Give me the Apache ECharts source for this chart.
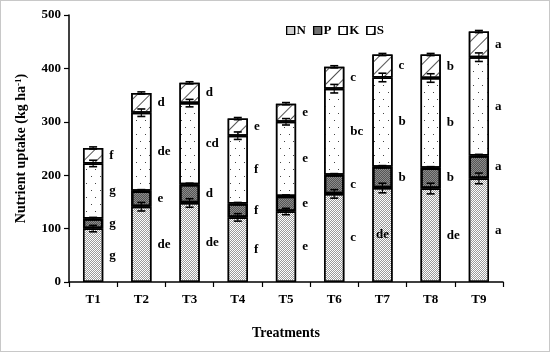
<!DOCTYPE html>
<html><head><meta charset="utf-8">
<script src="https://cdn.jsdelivr.net/npm/echarts@6/dist/echarts.min.js"></script>
<style>html,body{margin:0;padding:0;background:#fff}#c{width:550px;height:352px;box-sizing:border-box;border:1px solid #c8c8c8}</style>
</head><body><div id="c"></div>
<script>
const categories = ['T1','T2','T3','T4','T5','T6','T7','T8','T9'];
const seriesNames = ['N','P','K','S'];
const N = [100,141,148,121,132,165,176,175,194];
const P = [19,30,35,26,29,36,40,39,43];
const K = [103,146,152,127,139,161,167,168,184];
const S = [29,37,38,32,34,41,43,44,48];
const errN = [6,8,8,7,6,8,9,10,10];
const errP = [2,2,2,2,2,2,2,2,2];
const errK = [6,7,7,7,6,8,8,8,8];
const errS = [2,2,2,2,2,2,2,2,2];
const letN = ['g','de','de','f','e','c','de','de','a'];
const letP = ['g','e','d','f','e','c','b','b','a'];
const letK = ['g','de','cd','f','e','bc','b','b','a'];
const letS = ['f','d','d','e','e','c','c','b','a'];
const yTicks = [0,100,200,300,400,500];

const FONT = '"Liberation Serif","Times New Roman",serif';
const values = [N,P,K,S];
const errs = [errN,errP,errK,errS];
const lets = [letN,letP,letK,letS];
const styles = [
  {color:'#fff', decal:{symbol:'rect',symbolSize:1,dashArrayX:[[1,1],[0,1,1,0]],dashArrayY:[1,0],color:'#9a9a9a'}},
  {color:'#8c8c8c', decal:{symbol:'rect',symbolSize:1,dashArrayX:[[1,1],[0,1,1,0]],dashArrayY:[1,0],color:'#555'}},
  {color:'#fff', decal:{symbol:'rect',symbolSize:1,dashArrayX:[[1,8],[0,4,1,4]],dashArrayY:[1,6],color:'#444'}},
  {color:'#fff', decal:{symbol:'rect',symbolSize:1,dashArrayX:[[1,0]],dashArrayY:[1,8],rotation:-Math.PI/4,color:'#555'}}
];
const borderW = [1.5,2.2,1.5,1.5];

const series = [];
const cum = categories.map(()=>0);
values.forEach((arr,si)=>{
  series.push({
    name: seriesNames[si], type:'bar', stack:'t', barWidth:'42%',
    itemStyle: Object.assign({borderColor:'#000', borderWidth:borderW[si]}, styles[si]),
    label:{show:true, position:'right', distance:6, fontFamily:FONT, fontWeight:'bold', fontSize:13, color:'#000',
      formatter: p => lets[si][p.dataIndex]},
    data: arr.map((v,i)=> (si===0 && i===6) ? {value:v, label:{position:'inside'}} : v)
  });
});
const errData = [];
values.forEach((arr,si)=>{
  arr.forEach((v,i)=>{ cum[i]+=v; errData.push([i, cum[i], errs[si][i]]); });
});
series.push({
  type:'custom', silent:true, z:10,
  renderItem:(params, api)=>{
    const x = api.value(0), y = api.value(1), e = api.value(2);
    const top = api.coord([x, y+e]), bot = api.coord([x, y-e]);
    const hw = 4;
    const st = {stroke:'#000', lineWidth:1.1};
    return {type:'group', children:[
      {type:'line', shape:{x1:top[0],y1:top[1],x2:bot[0],y2:bot[1]}, style:st},
      {type:'line', shape:{x1:top[0]-hw,y1:top[1],x2:top[0]+hw,y2:top[1]}, style:{stroke:'#000', lineWidth:1.6}},
      {type:'line', shape:{x1:bot[0]-hw,y1:bot[1],x2:bot[0]+hw,y2:bot[1]}, style:{stroke:'#000', lineWidth:1.6}}
    ]};
  },
  encode:{x:0,y:1},
  data: errData
});

const chart = echarts.init(document.getElementById('c'));
chart.setOption({
  animation:false,
  textStyle:{fontFamily:FONT},
  grid:{left:68, right:46, top:14, bottom:69},
  legend:{
    data: seriesNames, left:280, top:18, itemWidth:8, itemHeight:8, itemGap:7, icon:'rect',
    textStyle:{fontFamily:FONT, fontWeight:'bold', fontSize:13, color:'#000', padding:[0,0,0,-3]},
    itemStyle:{borderColor:'#000', borderWidth:1.2}
  },
  xAxis:{
    type:'category', data:categories,
    name:'Treatments', nameLocation:'middle', nameGap:44,
    nameTextStyle:{fontFamily:FONT, fontWeight:'bold', fontSize:14, color:'#000'},
    axisLine:{lineStyle:{color:'#000', width:1.5}},
    axisTick:{show:true, length:5, lineStyle:{color:'#000', width:1.2}},
    axisLabel:{fontFamily:FONT, fontWeight:'bold', fontSize:13, color:'#000', margin:11}
  },
  yAxis:{
    type:'value', min:yTicks[0], max:yTicks[yTicks.length-1], interval:yTicks[1]-yTicks[0],
    name:'{a|Nutrient uptake (kg ha}{s|-1}{a|)}', nameLocation:'middle', nameGap:40, nameRotate:90,
    nameTextStyle:{rich:{
      a:{fontFamily:FONT, fontWeight:'bold', fontSize:14, color:'#000'},
      s:{fontFamily:FONT, fontWeight:'bold', fontSize:9, color:'#000', verticalAlign:'top', padding:[0,0,6,0]}
    }},
    axisLine:{show:true, lineStyle:{color:'#000', width:1.5}},
    axisTick:{show:true, length:5, lineStyle:{color:'#000', width:1.2}},
    splitLine:{show:false},
    axisLabel:{fontFamily:FONT, fontWeight:'bold', fontSize:13, color:'#000', margin:8}
  },
  series: series
});
</script></body></html>
